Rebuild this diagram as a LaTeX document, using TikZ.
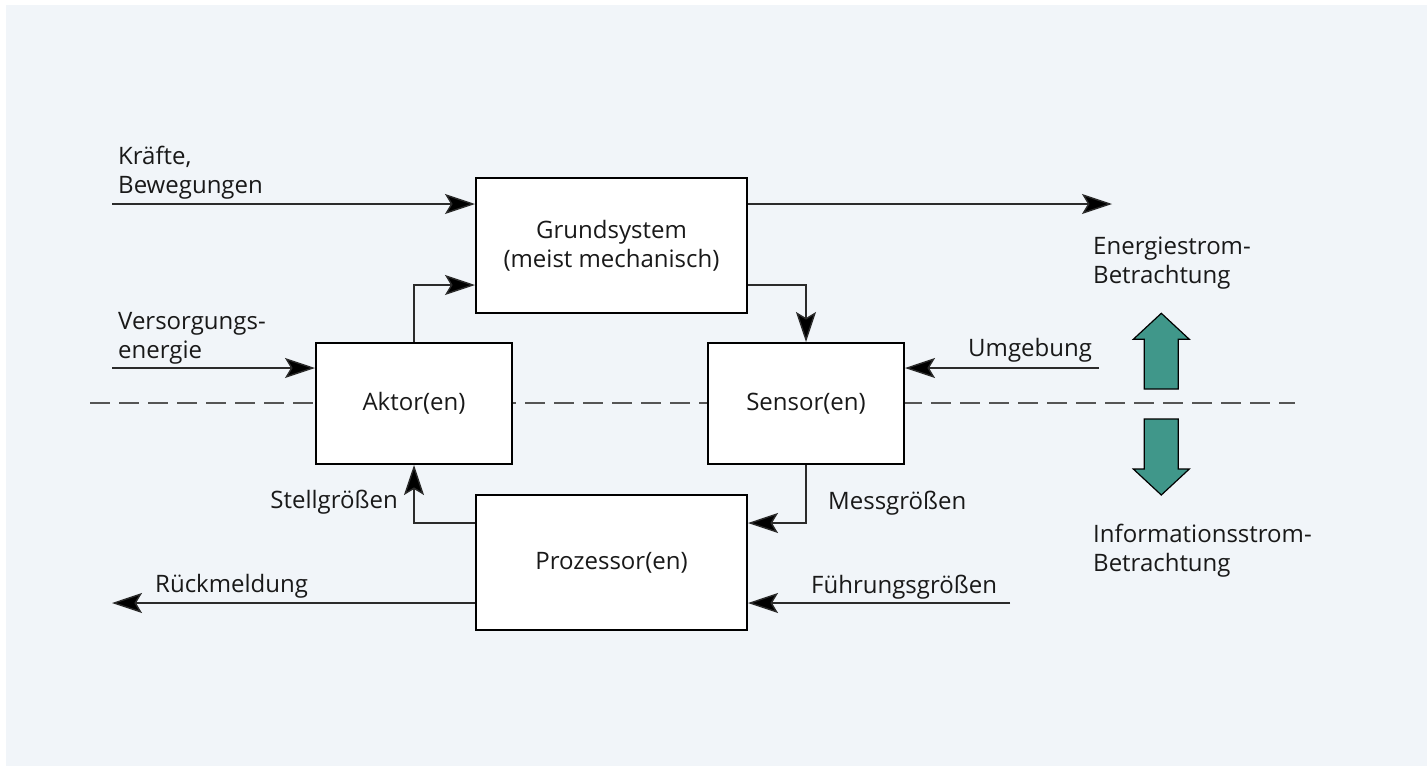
\documentclass[tikz,border=0pt]{standalone}
\usepackage{fontspec}
\setmainfont{Open Sans}
\usetikzlibrary{arrows.meta}
\definecolor{bgpanel}{HTML}{F1F5F9}
\definecolor{flowgreen}{HTML}{40978A}
\definecolor{inkgray}{HTML}{2B2B2B}
\begin{document}
\begin{tikzpicture}[x=1pt,y=-1pt,
  every node/.style={font=\fontsize{24}{29}\selectfont, text=black!90},
  blockbox/.style={draw=black, line width=2pt, fill=white, rectangle, align=center, inner sep=0pt},
  conn/.style={draw=inkgray, line width=1.4pt, -{Stealth[length=30pt,width=20pt,inset=6pt,fill=black]}},
  divider/.style={draw=inkgray!80, line width=1.4pt, dash pattern=on 20pt off 9pt},
  label/.style={anchor=base west, inner sep=0pt, align=left},
  flowarrow/.style={fill=flowgreen, draw=black, line width=1.2pt, line join=miter}]
  % canvas and panel
  \fill[white] (0,0) rectangle (1427,766);
  \fill[bgpanel] (6,5) rectangle (1427,766);
  \useasboundingbox (0,0) rectangle (1427,766);

  % energy / information boundary
  \draw[divider] (90,403) -- (1295,403);

  % blocks
  \node[blockbox, minimum width=271pt, minimum height=135pt] (grund) at (611.5,245.5) {Grundsystem\\(meist mechanisch)};
  \node[blockbox, minimum width=196pt, minimum height=121pt] (aktor) at (414,403.5) {Aktor(en)};
  \node[blockbox, minimum width=196pt, minimum height=121pt] (sensor) at (806,403.5) {Sensor(en)};
  \node[blockbox, minimum width=271pt, minimum height=135pt] (proz) at (611.5,562.5) {Prozessor(en)};

  % free ends and signal levels
  \coordinate (kin) at (112,204);
  \coordinate (eout) at (1112,204);
  \coordinate (ylow) at (0,285);
  \coordinate (vin) at (112,368);
  \coordinate (uin) at (1099,368);
  \coordinate (ysig) at (0,523);
  \coordinate (rout) at (112,603);
  \coordinate (fin) at (1010,603);

  % connectors
  \draw[conn] (kin) -- (grund.west |- kin);
  \draw[conn] (grund.east |- kin) -- (eout);
  \draw[conn] (aktor.north) |- (grund.west |- ylow);
  \draw[conn] (grund.east |- ylow) -| (sensor.north);
  \draw[conn] (vin) -- (aktor.west |- vin);
  \draw[conn] (uin) -- (sensor.east |- uin);
  \draw[conn] (proz.west |- ysig) -| (aktor.south);
  \draw[conn] (sensor.south) |- (proz.east |- ysig);
  \draw[conn] (proz.west |- rout) -- (rout);
  \draw[conn] (fin) -- (proz.east |- fin);

  % labels (two-line labels are placed by the baseline of their last line)
  \node[label] (lkraft) at (118,193) {Kräfte,\\Bewegungen};
  \node[label] (lvers) at (118,358) {Versorgungs-\\energie};
  \node[label] (lumg) at (968,356) {Umgebung};
  \node[anchor=base east, inner sep=0pt] (lstell) at (398,508) {Stellgrößen};
  \node[label] (lmess) at (828,509) {Messgrößen};
  \node[label] (lrueck) at (155,592) {Rückmeldung};
  \node[label] (lfuehr) at (811,593) {Führungsgrößen};
  \node[label] (lenergie) at (1093,283) {Energiestrom-\\Betrachtung};
  \node[label] (linfo) at (1093,571) {Informationsstrom-\\Betrachtung};

  % direction arrows
  \draw[flowarrow] (1161.3,313.3) -- (1189.3,339.3) -- (1178.3,339.3) -- (1178.3,389) -- (1144.3,389) -- (1144.3,339.3) -- (1133.3,339.3) -- cycle;
  \draw[flowarrow] (1161.3,495) -- (1189.3,469) -- (1178.3,469) -- (1178.3,419) -- (1144.3,419) -- (1144.3,469) -- (1133.3,469) -- cycle;
\end{tikzpicture}
\end{document}
